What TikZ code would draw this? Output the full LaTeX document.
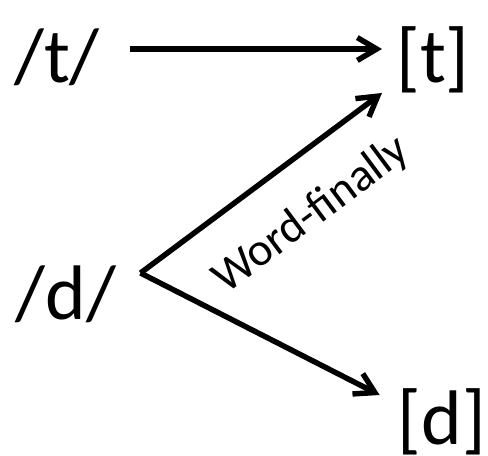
\documentclass[tikz,border=0pt]{standalone}
\usepackage{fontspec}
\setmainfont{Carlito}
\usetikzlibrary{arrows.meta,positioning,calc}
\tikzset{
  phon/.style={inner sep=0pt,anchor=base,font=\fontsize{44}{44}\selectfont},
  arr/.style={-{Straight Barb[length=11pt,width=13pt]},line width=3.1pt},
  cond/.style={font=\fontsize{26.5}{26.5}\selectfont,sloped},
}
\begin{document}
\begin{tikzpicture}[x=0.02cm,y=-0.02cm]
  \useasboundingbox (0,0) rectangle (488,456);

  \node[phon] (tund) at (57,83) {/t/};
  \node[phon] (tsurf) at (433,83) {[t]};
  \node[phon] (dund) at (66,320) {/d/};
  \node[phon] (dsurf) at (442,445) {[d]};
  \coordinate (fork) at ($(dund.base east)+(24,-47)$);

  \draw[arr] ($(tund.base east)+(30,-34)$) -- ($(tsurf.base west)+(-14,-34)$);
  \draw[arr] (fork) -- ($(tsurf.base west)+(-14,10)$)
    node[cond,pos=0.57,below=0.55cm] (wf) {Word-finally};
  \draw[arr] (fork) -- ($(dsurf.base west)+(-18,-50)$);
\end{tikzpicture}
\end{document}
